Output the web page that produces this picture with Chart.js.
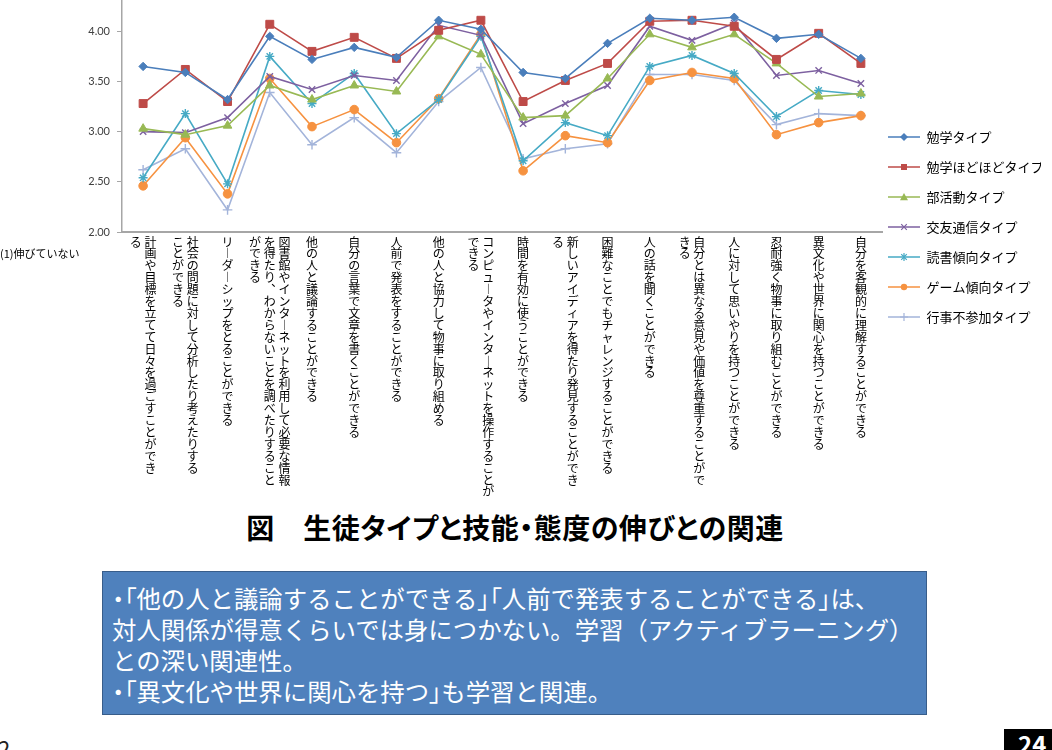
<!DOCTYPE html>
<html lang="ja">
<head>
<meta charset="utf-8">
<script src="https://cdn.jsdelivr.net/npm/chart.js@4.4.1/dist/chart.umd.min.js"></script>
<style>
  html, body { margin: 0; padding: 0; background: #fff; }
  body { width: 1052px; height: 750px; overflow: hidden; position: relative; font-family: "Noto Sans CJK JP", "Noto Sans", sans-serif; }
  #chart { position: absolute; left: 0; top: 0; }
  .side-note { position: absolute; left: 0; top: 245px; font-size: 11px; color: #000; white-space: nowrap; }
  .fig-title { position: absolute; left: 0; width: 1030px; top: 507px; text-align: center; font-size: 28px; letter-spacing: 0.5px; font-weight: 700; color: #000; white-space: nowrap; font-feature-settings: "palt"; }
  .note-box { position: absolute; left: 102px; top: 571px; width: 825px; height: 144px; box-sizing: border-box; background: #4F81BD; border: 1.5px solid #385D8A; color: #fff; font-size: 24.4px; line-height: 31px; padding: 10px 0 0 9px; white-space: nowrap; }
  .note-box .p { font-feature-settings: "palt"; }
  .page-left { position: absolute; left: -2px; top: 731px; font-size: 22px; color: #222; }
  .page-num { position: absolute; left: 1004px; top: 729px; width: 60px; height: 30px; background: #000; color: #fff; font-size: 24px; font-weight: 700; padding-left: 14px; box-sizing: border-box; line-height: 30px; }
</style>
</head>
<body>
<canvas id="chart" width="1052" height="500"></canvas>
<div class="side-note">(1)伸びていない</div>
<div class="fig-title">図　生徒タイプと技能・態度の伸びとの関連</div>
<div class="note-box"><span class="p">・「</span>他の人と議論することができる<span class="p">」「</span>人前で発表することができる<span class="p">」</span>は<span class="p">、</span><br>対人関係が得意くらいでは身につかない。学習（アクティブラーニング）<br>との深い関連性。<br><span class="p">・「</span>異文化や世界に関心を持つ<span class="p">」</span>も学習と関連。</div>
<div class="page-left">2</div>
<div class="page-num">24</div>
<script>
// ---- data ----
const categories = [
  ["計画や目標を立てて日々を過ごすことができ", "る"],
  ["社会の問題に対して分析したり考えたりする", "ことができる"],
  ["リーダーシップをとることができる"],
  ["図書館やインターネットを利用して必要な情報", "を得たり、わからないことを調べたりすること", "ができる"],
  ["他の人と議論することができる"],
  ["自分の言葉で文章を書くことができる"],
  ["人前で発表をすることができる"],
  ["他の人と協力して物事に取り組める"],
  ["コンピュータやインターネットを操作することが", "できる"],
  ["時間を有効に使うことができる"],
  ["新しいアイディアを得たり発見することができ", "る"],
  ["困難なことでもチャレンジすることができる"],
  ["人の話を聞くことができる"],
  ["自分とは異なる意見や価値を尊重することがで", "きる"],
  ["人に対して思いやりを持つことができる"],
  ["忍耐強く物事に取り組むことができる"],
  ["異文化や世界に関心を持つことができる"],
  ["自分を客観的に理解することができる"]
];
const seriesNames = ["勉学タイプ", "勉学ほどほどタイプ", "部活動タイプ", "交友通信タイプ", "読書傾向タイプ", "ゲーム傾向タイプ", "行事不参加タイプ"];
const benkyo   = [3.65, 3.59, 3.32, 3.95, 3.72, 3.84, 3.74, 4.11, 4.02, 3.59, 3.53, 3.88, 4.13, 4.11, 4.14, 3.93, 3.97, 3.73];
const hodohodo = [3.28, 3.62, 3.30, 4.07, 3.80, 3.94, 3.73, 4.01, 4.11, 3.30, 3.51, 3.68, 4.10, 4.11, 4.05, 3.72, 3.98, 3.68];
const bukatsu  = [3.03, 2.97, 3.06, 3.46, 3.32, 3.46, 3.40, 3.95, 3.77, 3.14, 3.16, 3.53, 3.97, 3.84, 3.97, 3.68, 3.35, 3.38];
const koyu     = [3.00, 2.99, 3.14, 3.55, 3.42, 3.56, 3.51, 4.06, 3.96, 3.08, 3.28, 3.46, 4.05, 3.91, 4.08, 3.56, 3.61, 3.48];
const dokusho  = [2.54, 3.18, 2.48, 3.75, 3.28, 3.58, 2.98, 3.32, 3.95, 2.71, 3.09, 2.96, 3.65, 3.76, 3.58, 3.15, 3.41, 3.37];
const game     = [2.46, 2.94, 2.38, 3.53, 3.05, 3.22, 2.89, 3.33, 3.97, 2.61, 2.96, 2.89, 3.51, 3.59, 3.53, 2.97, 3.09, 3.16];
const gyoji    = [2.62, 2.83, 2.22, 3.39, 2.87, 3.14, 2.79, 3.30, 3.64, 2.73, 2.83, 2.88, 3.57, 3.57, 3.51, 3.07, 3.18, 3.16];
const seriesValues = [benkyo, hodohodo, bukatsu, koyu, dokusho, game, gyoji];
const yTickValues = [2.0, 2.5, 3.0, 3.5, 4.0];

// ---- styling ----
const colors = ["#4A7EBB", "#BE4B48", "#98B954", "#7D60A0", "#46AAC5", "#F69240", "#A3B4DA"];
const styles = ["rectRot", "rect", "triangle", "crossRot", "star", "circle", "cross"];
const radii  = [4.2, 5.6, 5, 4.5, 4.5, 4.3, 4.8];
const CH = 500;
const JP = '"Noto Sans CJK JP", "Noto Sans", sans-serif';

// vertical (tategaki) rendering of tick labels: columns right to left
function toVertical(cols) {
  const map = { "ー": "︱", "、": "︑", "。": "︒" };
  const arr = cols.map(c => Array.from(c));
  const n = Math.max(...arr.map(a => a.length));
  const rows = [];
  for (let i = 0; i < n; i++) {
    const parts = [];
    for (let c = arr.length - 1; c >= 0; c--) {
      const ch = arr[c][i];
      parts.push(ch ? (map[ch] || ch) : "\u3000");
    }
    rows.push(parts.join(" "));
  }
  return rows;
}
const labels = categories.map(toVertical);

// legend icons: line with marker in the middle
function drawMarker(g, style, x, y, r, color) {
  g.fillStyle = color; g.strokeStyle = color; g.lineWidth = 1.2;
  g.beginPath();
  switch (style) {
    case "rectRot": g.moveTo(x, y - r); g.lineTo(x + r, y); g.lineTo(x, y + r); g.lineTo(x - r, y); g.closePath(); g.fill(); break;
    case "rect": g.rect(x - r * 0.75, y - r * 0.75, r * 1.5, r * 1.5); g.fill(); break;
    case "triangle": g.moveTo(x, y - r); g.lineTo(x + r, y + r * 0.8); g.lineTo(x - r, y + r * 0.8); g.closePath(); g.fill(); break;
    case "crossRot": g.moveTo(x - r * 0.7, y - r * 0.7); g.lineTo(x + r * 0.7, y + r * 0.7); g.moveTo(x + r * 0.7, y - r * 0.7); g.lineTo(x - r * 0.7, y + r * 0.7); g.stroke(); break;
    case "star": g.moveTo(x - r * 0.7, y - r * 0.7); g.lineTo(x + r * 0.7, y + r * 0.7); g.moveTo(x + r * 0.7, y - r * 0.7); g.lineTo(x - r * 0.7, y + r * 0.7); g.moveTo(x, y - r); g.lineTo(x, y + r); g.stroke(); break;
    case "circle": g.arc(x, y, r * 0.8, 0, Math.PI * 2); g.fill(); break;
    case "cross": g.moveTo(x - r, y); g.lineTo(x + r, y); g.moveTo(x, y - r); g.lineTo(x, y + r); g.stroke(); break;
  }
}
const legendIcons = colors.map((c, i) => {
  const cv = document.createElement("canvas");
  cv.width = 32; cv.height = 12;
  const g = cv.getContext("2d");
  g.strokeStyle = c; g.lineWidth = 1.5;
  g.beginPath(); g.moveTo(0, 6); g.lineTo(32, 6); g.stroke();
  drawMarker(g, styles[i], 16, 6, 4, c);
  return cv;
});

const legendShift = {
  id: "legendShift",
  afterLayout(chart) {
    const l = chart.legend;
    if (!l) return;
    l.left -= 11; l.right -= 11;
    l.top += 113.5; l.bottom += 113.5;
  }
};

const datasets = seriesNames.map((name, i) => ({
  label: name,
  data: seriesValues[i],
  borderColor: colors[i],
  backgroundColor: colors[i],
  borderWidth: 1.6,
  pointStyle: styles[i],
  pointRadius: radii[i],
  pointHoverRadius: radii[i],
  pointBackgroundColor: colors[i],
  pointBorderColor: colors[i],
  pointBorderWidth: (styles[i] === "crossRot" || styles[i] === "star" || styles[i] === "cross") ? 1.4 : 1,
  tension: 0,
  clip: false
}));

new Chart(document.getElementById("chart"), {
  type: "line",
  data: { labels: labels, datasets: datasets },
  options: {
    responsive: false,
    animation: false,
    devicePixelRatio: 1,
    layout: { padding: 0, autoPadding: false },
    events: [],
    plugins: {
      tooltip: { enabled: false },
      legend: {
        position: "right",
        align: "start",
        maxWidth: 170,
        labels: {
          usePointStyle: true,
          pointStyleWidth: 32,
          boxHeight: 13,
          padding: 17,
          color: "#000",
          font: { family: JP, size: 13 },
          generateLabels(chart) {
            return chart.data.datasets.map((ds, i) => ({
              text: ds.label,
              fillStyle: ds.borderColor,
              strokeStyle: ds.borderColor,
              lineWidth: 0,
              pointStyle: legendIcons[i],
              hidden: false,
              datasetIndex: i,
              fontColor: "#000"
            }));
          }
        }
      }
    },
    scales: {
      x: {
        offset: true,
        grid: { display: false, drawTicks: false },
        border: { color: "#A6A6A6", width: 2 },
        ticks: {
          autoSkip: false, maxRotation: 0, minRotation: 0, padding: 4,
          color: "#000",
          font: { family: JP, size: 12, lineHeight: "11.9px" }
        },
        afterFit(s) { s.height = CH - 232; s.paddingLeft = 0; s.paddingRight = 0; }
      },
      y: {
        min: 2.0,
        max: 4.312,
        ticks: {
          stepSize: 0.5,
          padding: 7,
          color: "#404040",
          font: { family: "Lato, 'Open Sans', sans-serif", size: 11 },
          callback: v => Number(v).toFixed(2)
        },
        grid: { drawOnChartArea: false, drawTicks: true, tickLength: 5, color: "#A6A6A6" },
        border: { color: "#A6A6A6", width: 1.5 },
        afterBuildTicks(s) {
          s.ticks = yTickValues.map(v => ({ value: v }));
        },
        afterFit(s) { s.width = 122; s.paddingTop = 0; s.paddingBottom = 0; }
      }
    }
  },
  plugins: [legendShift]
});
</script>
</body>
</html>
